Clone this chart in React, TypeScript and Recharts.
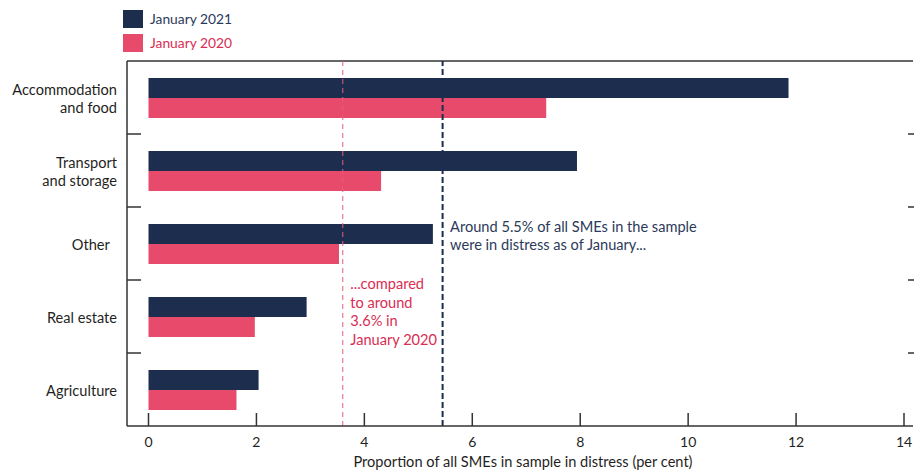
import React from 'react';
import { BarChart, Bar, XAxis, YAxis, ReferenceLine, Legend, CartesianGrid } from 'recharts';

const categories = ['Accommodation and food', 'Transport and storage', 'Other', 'Real estate', 'Agriculture'];
const categoryLines = [['Accommodation', 'and food'], ['Transport', 'and storage'], ['Other\u00a0\u00a0'], ['Real estate'], ['Agriculture']];
const jan2021 = [11.86, 7.94, 5.27, 2.93, 2.04];
const jan2020 = [7.37, 4.31, 3.53, 1.97, 1.63];
const xTicks = [0, 2, 4, 6, 8, 10, 12, 14];
const avg2021 = 5.45;
const avg2020 = 3.6;
const seriesNames = ['January 2021', 'January 2020'];
const annotation2021 = ['Around 5.5% of all SMEs in the sample', 'were in distress as of January...'];
const annotation2020 = ['...compared', 'to around', '3.6% in', 'January 2020'];
const xTitle = 'Proportion of all SMEs in sample in distress (per cent)';

const NAVY = '#1c2d4e';
const PINK = '#e84a6b';
const NAVY_TEXT = '#2b3a5a';
const PINK_TEXT = '#d92d52';
const AXIS = '#333333';
const FONT = 'Lato, "Noto Sans", sans-serif';
const FS = 14.6;

const data = categories.map((name, i) => ({ name, y2021: jan2021[i], y2020: jan2020[i] }));

const LeftTick = (props: any) => {
  const { x, y, payload, index } = props;
  const lines = categoryLines[index] || [String(payload.value)];
  const off = payload && payload.offset ? payload.offset : 0;
  const lh = 18;
  const start = y - ((lines.length - 1) * lh) / 2;
  return (
    <g>
      <text x={x - 10} y={start} textAnchor="end" fontFamily={FONT} fontSize={FS} fill="#1f1f24" dominantBaseline="central">
        {lines.map((l: string, i: number) => (
          <tspan key={i} x={x - 10} y={start + i * lh}>{l}</tspan>
        ))}
      </text>
      {index < categories.length - 1 && (
        <line x1={x} x2={x + 14} y1={y + off} y2={y + off} stroke={AXIS} strokeWidth={1.5} />
      )}
    </g>
  );
};

const RightTick = (props: any) => {
  const { x, y, payload, index } = props;
  const off = payload && payload.offset ? payload.offset : 0;
  if (index >= categories.length - 1) return <g />;
  return <line x1={x - 5} x2={x + 1} y1={y + off} y2={y + off} stroke={AXIS} strokeWidth={1.5} />;
};

const XTick = (props: any) => {
  const { x, y, payload } = props;
  return (
    <g>
      <line x1={x} x2={x} y1={y - 13} y2={y} stroke={AXIS} strokeWidth={1.5} />
      <text x={x} y={y + 21} textAnchor="middle" fontFamily={FONT} fontSize={14} fill="#1f1f24">{payload.value}</text>
    </g>
  );
};

const AnnLabel = (props: any) => {
  const { viewBox, lines, color, firstOffset } = props;
  const vx = viewBox ? viewBox.x : 0;
  const vy = viewBox ? viewBox.y : 0;
  return (
    <text fontFamily={FONT} fontSize={FS} fill={color}>
      {lines.map((l: string, i: number) => (
        <tspan key={i} x={vx + 7.5} y={vy + firstOffset + i * 18.7}>{l}</tspan>
      ))}
    </text>
  );
};

const LegendContent = () => {
  const colors = [NAVY, PINK];
  const textColors = [NAVY_TEXT, PINK_TEXT];
  return (
    <div style={{ fontFamily: FONT, fontSize: 13.8 }}>
      {seriesNames.map((n, i) => (
        <div key={n} style={{ display: 'flex', alignItems: 'center', height: 18, marginBottom: 6 }}>
          <div style={{ width: 20, height: 18, background: colors[i], marginRight: 7 }} />
          <span style={{ color: textColors[i], lineHeight: '18px' }}>{n}</span>
        </div>
      ))}
    </div>
  );
};

export default function App() {
  return (
    <div style={{ position: 'absolute', left: 0, top: 0, width: 914, height: 472, background: '#fff' }}>
      <BarChart
        width={914}
        height={472}
        data={data}
        layout="vertical"
        margin={{ top: 61, right: 0, bottom: 0, left: 0 }}
        barCategoryGap={17}
        barGap={0}
      >
        <CartesianGrid
          vertical={false}
          horizontal={true}
          stroke={AXIS}
          strokeWidth={1.5}
          horizontalCoordinatesGenerator={(p: any) => [p.offset.top]}
        />
        <XAxis
          type="number"
          domain={[0, 14]}
          ticks={xTicks}
          padding={{ left: 21.5, right: 9 }}
          height={46}
          tickSize={0}
          tickMargin={0}
          tickLine={false}
          axisLine={{ stroke: AXIS, strokeWidth: 1.5 }}
          tick={<XTick />}
          interval={0}
          label={{ value: xTitle, position: 'insideBottom', offset: 5, dx: 3, style: { fontFamily: FONT, fontSize: FS, fill: '#1f1f24' } }}
        />
        <YAxis
          type="category"
          dataKey="name"
          width={127}
          tickSize={0}
          tickMargin={0}
          tickLine={false}
          axisLine={{ stroke: AXIS, strokeWidth: 1.5 }}
          tick={<LeftTick />}
          interval={0}
        />
        <YAxis
          yAxisId="right"
          orientation="right"
          type="category"
          dataKey="name"
          width={1}
          tickSize={0}
          tickMargin={0}
          tickLine={false}
          axisLine={false}
          tick={<RightTick />}
          interval={0}
        />
        <Legend
          layout="horizontal"
          verticalAlign="middle"
          align="center"
          content={<LegendContent />}
          wrapperStyle={{ position: 'absolute', left: 123, top: 10, width: 200 }}
        />
        <Bar dataKey="y2021" name={seriesNames[0]} fill={NAVY} isAnimationActive={false} />
        <Bar dataKey="y2020" name={seriesNames[1]} fill={PINK} isAnimationActive={false} />
        <ReferenceLine
          x={avg2020}
          stroke="#e0607c"
          strokeWidth={1}
          strokeDasharray="5 4"
          label={<AnnLabel lines={annotation2020} color={PINK_TEXT} firstOffset={228} />}
        />
        <ReferenceLine
          x={avg2021}
          stroke={NAVY}
          strokeWidth={2}
          strokeDasharray="6 3"
          label={<AnnLabel lines={annotation2021} color={NAVY_TEXT} firstOffset={170.5} />}
        />
      </BarChart>
    </div>
  );
}
